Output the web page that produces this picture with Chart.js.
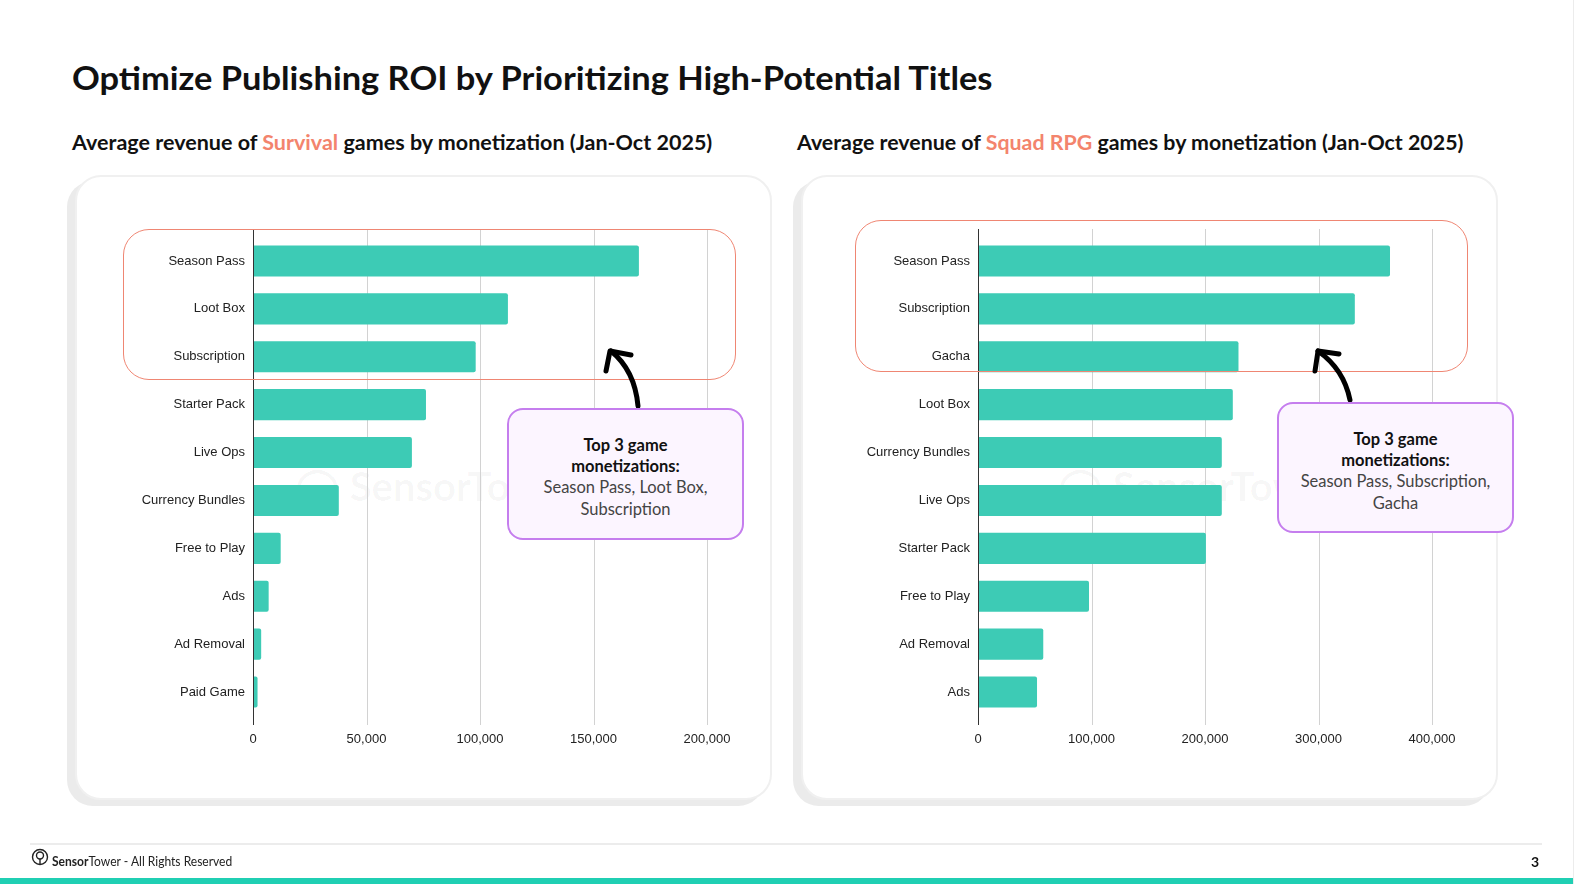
<!DOCTYPE html>
<html>
<head>
<meta charset="utf-8">
<script src="https://cdn.jsdelivr.net/npm/chart.js@4/dist/chart.umd.min.js"></script>
<style>
  html, body { margin: 0; padding: 0; background: #fff; }
  body { width: 1578px; height: 884px; position: relative; overflow: hidden; font-family: Lato, "Noto Sans", sans-serif; }
  .abs { position: absolute; }
  #title { left: 72px; top: 58px; font-size: 32px; font-weight: 700; color: #111; white-space: nowrap; line-height: 40px; transform-origin: left center; }
  .sub { top: 129px; font-size: 20px; font-weight: 700; color: #111; white-space: nowrap; line-height: 26px; transform-origin: left center; }
  .sub span { color: #f3846d; }
  .card { top: 175px; width: 693px; height: 621px; background: #fff; border: 2px solid #f0f0f0; border-radius: 26px; box-shadow: -8px 6px 0 0 #ebebeb; }
  .redbox { border: 1.5px solid #ef8673; border-radius: 26px; box-sizing: border-box; pointer-events: none; }
  .callout { background: #fcf5ff; border: 2px solid #c57eee; border-radius: 16px; box-sizing: border-box; text-align: center; font-size: 16.5px; line-height: 21.2px; color: #444; padding-top: 25px; }
  .callout b { color: #111; }
  .mark { font-size: 40px; font-weight: 700; color: rgba(0,0,0,0.035); white-space: nowrap; }
  #footline { left: 30px; top: 843px; width: 1512px; height: 2px; background: #ececec; }
  #foot { left: 52px; top: 853px; font-size: 12.5px; color: #222; line-height: 18px; white-space: nowrap; transform-origin: left center; }
  #page { left: 1531px; top: 852px; font-size: 14px; font-weight: 700; color: #111; line-height: 20px; }
  #teal { left: 0; top: 878px; width: 1573px; height: 6px; background: #20cfb3; }
  #edge { left: 1573px; top: 0; width: 1px; height: 884px; background: #ececec; }
  canvas { position: absolute; }
</style>
</head>
<body>
<div id="title" class="abs">Optimize Publishing ROI by Prioritizing High-Potential Titles</div>
<div id="sub1" class="abs sub" style="left:72px">Average revenue of <span>Survival</span> games by monetization (Jan-Oct 2025)</div>
<div id="sub2" class="abs sub" style="left:797px">Average revenue of <span>Squad RPG</span> games by monetization (Jan-Oct 2025)</div>

<div class="abs card" style="left:75px"></div>
<div class="abs card" style="left:801px"></div>

<div class="abs mark" style="left:295px; top:462px">&#9711; SensorTower</div>
<div class="abs mark" style="left:1058px; top:462px">&#9711; SensorTower</div>

<canvas id="survivalChart" width="660" height="580" style="left:100px; top:201px"></canvas>
<canvas id="squadChart" width="660" height="580" style="left:820px; top:201px"></canvas>

<div class="abs redbox" style="left:123px; top:229px; width:613px; height:151px"></div>
<div class="abs redbox" style="left:855px; top:220px; width:613px; height:152px"></div>

<svg class="abs" style="left:0; top:0" width="1578" height="884">
  <g fill="none" stroke="#000" stroke-width="5" stroke-linecap="round" stroke-linejoin="round">
    <path d="M638,406 C636,384 627,364 611,351"/>
    <path d="M606,371 L610,351 L631,355"/>
    <path d="M1350,400 C1346,380 1335,363 1318,351"/>
    <path d="M1315,371 L1318,351 L1339,354"/>
  </g>
</svg>

<div class="abs callout" style="left:507px; top:408px; width:237px; height:132px">
  <b>Top 3 game<br>monetizations:</b><br>Season Pass, Loot Box,<br>Subscription
</div>
<div class="abs callout" style="left:1277px; top:402px; width:237px; height:131px">
  <b>Top 3 game<br>monetizations:</b><br>Season Pass, Subscription,<br>Gacha
</div>

<div id="footline" class="abs"></div>
<svg class="abs" style="left:31px; top:848px" width="18" height="18">
  <circle cx="9" cy="9" r="7.5" fill="none" stroke="#222" stroke-width="1.4"/>
  <circle cx="9" cy="7.5" r="3.5" fill="none" stroke="#222" stroke-width="1.4"/>
  <line x1="9" y1="11" x2="9" y2="16" stroke="#222" stroke-width="1.4"/>
</svg>
<div id="foot" class="abs"><b>Sensor</b>Tower - All Rights Reserved</div>
<div id="page" class="abs">3</div>
<div id="teal" class="abs"></div>
<div id="edge" class="abs"></div>

<script>
const survivalLabels = ['Season Pass', 'Loot Box', 'Subscription', 'Starter Pack', 'Live Ops', 'Currency Bundles', 'Free to Play', 'Ads', 'Ad Removal', 'Paid Game'];
const survivalValues = [170000, 112300, 98100, 76200, 70000, 37800, 12200, 6900, 3600, 2000];
const survivalTicks = [0, 50000, 100000, 150000, 200000];

const squadLabels = ['Season Pass', 'Subscription', 'Gacha', 'Loot Box', 'Currency Bundles', 'Live Ops', 'Starter Pack', 'Free to Play', 'Ad Removal', 'Ads'];
const squadValues = [363000, 332000, 229500, 224500, 214800, 214800, 200800, 97800, 57500, 52000];
const squadTicks = [0, 100000, 200000, 300000, 400000];

// squeeze a text line to the width it has in the slide
function fitWidth(id, target) {
    const el = document.getElementById(id);
    el.style.transform = `scaleX(${target / el.offsetWidth})`;
}
fitWidth('title', 921);
fitWidth('sub1', 640);
fitWidth('sub2', 666);
fitWidth('foot', 180);

// grid lines and the zero axis stick out a few px past the bars
const axisLines = {
    id: 'axisLines',
    beforeDatasetsDraw(chart) {
        const { ctx, chartArea, scales } = chart;
        ctx.save();
        ctx.strokeStyle = '#d2d2d2';
        ctx.lineWidth = 1;
        scales.x.ticks.forEach(t => {
            if (t.value === 0) return;
            const x = Math.round(scales.x.getPixelForValue(t.value)) + 0.5;
            ctx.beginPath();
            ctx.moveTo(x, chartArea.top - 8);
            ctx.lineTo(x, chartArea.bottom + 9);
            ctx.stroke();
        });
        ctx.restore();
    },
    afterDatasetsDraw(chart) {
        const { ctx, chartArea, scales } = chart;
        const x = Math.round(scales.x.getPixelForValue(0)) + 0.5;
        ctx.save();
        ctx.strokeStyle = '#333';
        ctx.lineWidth = 1;
        ctx.beginPath();
        ctx.moveTo(x, chartArea.top - 8);
        ctx.lineTo(x, chartArea.bottom + 9);
        ctx.stroke();
        ctx.restore();
    }
};

function drawBars(canvasId, labels, values, ticks, yWidth, rightPad) {
    const ctx = document.getElementById(canvasId).getContext('2d');
    return new Chart(ctx, {
        type: 'bar',
        data: {
            labels: labels,
            datasets: [{
                data: values,
                backgroundColor: '#3dcbb5',
                borderWidth: 0,
                borderRadius: 2,
                borderSkipped: 'start',
                categoryPercentage: 1,
                barPercentage: 0.65
            }]
        },
        options: {
            indexAxis: 'y',
            responsive: false,
            animation: false,
            layout: { padding: { top: 36, right: rightPad, bottom: 24, left: 0 } },
            plugins: { legend: { display: false }, tooltip: { enabled: false } },
            scales: {
                x: {
                    min: 0,
                    max: ticks[ticks.length - 1],
                    afterBuildTicks: scale => { scale.ticks = ticks.map(v => ({ value: v })); },
                    afterFit: scale => { scale.height = 41; },
                    grid: { display: false, drawTicks: false },
                    border: { display: false },
                    ticks: {
                        padding: 16,
                        color: '#222',
                        font: { family: 'Liberation Sans, Arial, sans-serif', size: 13 },
                        callback: v => v.toLocaleString('en-US')
                    }
                },
                y: {
                    afterFit: scale => { scale.width = yWidth; },
                    grid: { display: false, drawTicks: false },
                    border: { display: false },
                    ticks: {
                        padding: 8,
                        color: '#222',
                        font: { family: 'Liberation Sans, Arial, sans-serif', size: 13 }
                    }
                }
            }
        },
        plugins: [axisLines]
    });
}

drawBars('survivalChart', survivalLabels, survivalValues, survivalTicks, 153, 53);
drawBars('squadChart', squadLabels, squadValues, squadTicks, 158, 48);
</script>
</body>
</html>
